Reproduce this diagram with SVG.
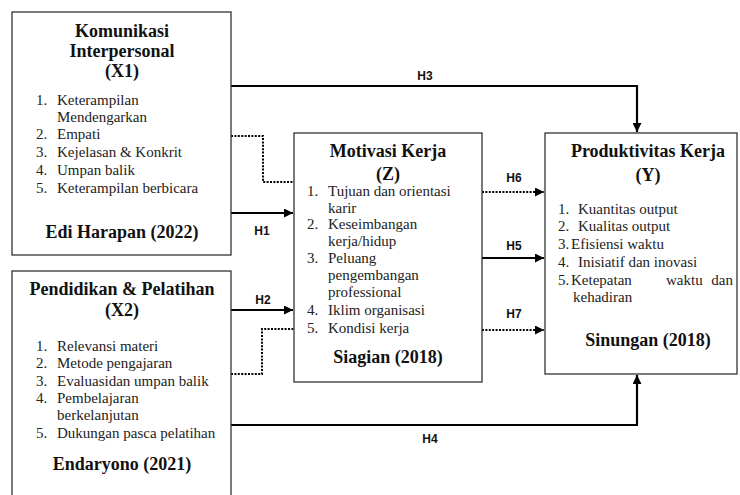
<svg xmlns="http://www.w3.org/2000/svg" width="740" height="495" viewBox="0 0 740 495">
<style>
.box{fill:#fff;stroke:#333;stroke-width:1.3}
.h{font-family:"Liberation Serif",serif;font-weight:bold;font-size:18px;fill:#111;text-anchor:middle}
.t{font-family:"Liberation Serif",serif;font-size:15px;fill:#222}
.lbl{font-family:"Liberation Sans",Arial,sans-serif;font-weight:bold;font-size:12px;fill:#111;text-anchor:middle}
.s{fill:none;stroke:#000;stroke-width:2.2}
.d{fill:none;stroke:#000;stroke-width:2;stroke-dasharray:2 1.4}
</style>
<defs>
<marker id="ah" viewBox="0 0 10 10" refX="10" refY="5" markerWidth="9" markerHeight="9" markerUnits="userSpaceOnUse" orient="auto">
<path d="M0,0 L10,5 L0,10 z" fill="#000"/>
</marker>
</defs>
<rect width="740" height="495" fill="#fff"/>

<g id="connectors">
<path class="s" d="M231,86 H637 V132" marker-end="url(#ah)"/>
<path class="d" d="M231,136 H263 V182 H294"/>
<path class="s" d="M231,213 H293" marker-end="url(#ah)"/>
<path class="s" d="M231,310 H293" marker-end="url(#ah)"/>
<path class="d" d="M231,374 H262 V329 H294"/>
<path class="s" d="M231,425 H637 V375" marker-end="url(#ah)"/>
<path class="d" d="M482,192 H544" marker-end="url(#ah)"/>
<path class="s" d="M482,258 H544" marker-end="url(#ah)"/>
<path class="d" d="M482,330 H544" marker-end="url(#ah)"/>
<text class="lbl" x="425" y="80">H3</text>
<text class="lbl" x="262" y="235">H1</text>
<text class="lbl" x="263" y="304">H2</text>
<text class="lbl" x="430" y="443">H4</text>
<text class="lbl" x="514" y="182">H6</text>
<text class="lbl" x="514" y="250">H5</text>
<text class="lbl" x="514" y="318">H7</text>
</g>

<g id="X1">
<rect class="box" x="12" y="12" width="219" height="243"/>
<text class="h" x="122" y="37">Komunikasi</text>
<text class="h" x="122" y="57">Interpersonal</text>
<text class="h" x="122" y="77">(X1)</text>
<text class="t" x="36" y="105">1.</text><text class="t" x="57" y="105">Keterampilan</text>
<text class="t" x="57" y="122">Mendengarkan</text>
<text class="t" x="36" y="139">2.</text><text class="t" x="57" y="139">Empati</text>
<text class="t" x="36" y="157">3.</text><text class="t" x="57" y="157">Kejelasan &amp; Konkrit</text>
<text class="t" x="36" y="175">4.</text><text class="t" x="57" y="175">Umpan balik</text>
<text class="t" x="36" y="193">5.</text><text class="t" x="57" y="193">Keterampilan berbicara</text>
<text class="h" x="122" y="238">Edi Harapan (2022)</text>
</g>

<g id="X2">
<rect class="box" x="12" y="271" width="219" height="240"/>
<text class="h" x="122" y="295">Pendidikan &amp; Pelatihan</text>
<text class="h" x="122" y="316">(X2)</text>
<text class="t" x="36" y="351">1.</text><text class="t" x="57" y="351">Relevansi materi</text>
<text class="t" x="36" y="368">2.</text><text class="t" x="57" y="368">Metode pengajaran</text>
<text class="t" x="36" y="386">3.</text><text class="t" x="57" y="386">Evaluasidan umpan balik</text>
<text class="t" x="36" y="403">4.</text><text class="t" x="57" y="403">Pembelajaran</text>
<text class="t" x="57" y="420">berkelanjutan</text>
<text class="t" x="36" y="438">5.</text><text class="t" x="57" y="438">Dukungan pasca pelatihan</text>
<text class="h" x="122" y="470">Endaryono (2021)</text>
</g>

<g id="Z">
<rect class="box" x="294" y="133" width="188" height="249"/>
<text class="h" x="388" y="157">Motivasi Kerja</text>
<text class="h" x="388" y="180">(Z)</text>
<text class="t" x="307" y="196">1.</text><text class="t" x="328" y="196">Tujuan dan orientasi</text>
<text class="t" x="328" y="213">karir</text>
<text class="t" x="307" y="229">2.</text><text class="t" x="328" y="229">Keseimbangan</text>
<text class="t" x="328" y="246">kerja/hidup</text>
<text class="t" x="307" y="263">3.</text><text class="t" x="328" y="263">Peluang</text>
<text class="t" x="328" y="280">pengembangan</text>
<text class="t" x="328" y="297">professional</text>
<text class="t" x="307" y="315">4.</text><text class="t" x="328" y="315">Iklim organisasi</text>
<text class="t" x="307" y="333">5.</text><text class="t" x="328" y="333">Kondisi kerja</text>
<text class="h" x="388" y="363">Siagian (2018)</text>
</g>

<g id="Y">
<rect class="box" x="545" y="133" width="192" height="241"/>
<text class="h" x="648" y="157">Produktivitas Kerja</text>
<text class="h" x="648" y="181">(Y)</text>
<text class="t" x="558" y="214">1.</text><text class="t" x="578" y="214">Kuantitas output</text>
<text class="t" x="558" y="231">2.</text><text class="t" x="578" y="231">Kualitas output</text>
<text class="t" x="558" y="249">3.</text><text class="t" x="571" y="249">Efisiensi waktu</text>
<text class="t" x="558" y="267">4.</text><text class="t" x="578" y="267">Inisiatif dan inovasi</text>
<text class="t" x="558" y="285">5.</text><text class="t" x="571" y="285">Ketepatan</text>
<text class="t" x="666" y="285">waktu</text>
<text class="t" x="733" y="285" text-anchor="end">dan</text>
<text class="t" x="573" y="302">kehadiran</text>
<text class="h" x="648" y="346">Sinungan (2018)</text>
</g>
</svg>
